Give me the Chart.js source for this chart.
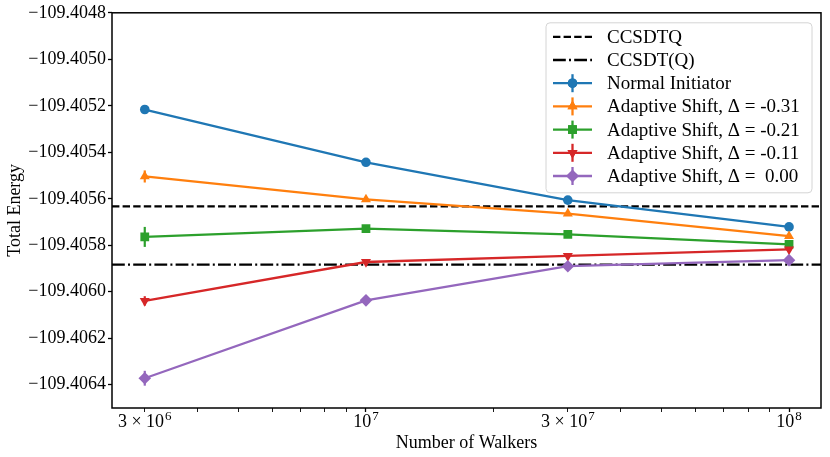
<!DOCTYPE html>
<html>
<head>
<meta charset="utf-8">
<script src="https://cdn.jsdelivr.net/npm/chart.js@4.4.1/dist/chart.umd.min.js"></script>
<style>
html, body { margin: 0; padding: 0; background: #fff; }
canvas { display: block; }
</style>
</head>
<body>
<canvas id="myChart" width="830" height="457" style="width:830px;height:457px"></canvas>
<script>
// walkers on the x axis (log scale)
const walkers = [3e6, 1e7, 3e7, 1e8];

// total energies
const normalInit = [-109.405216, -109.405443, -109.405606, -109.405721];
const shift031 = [-109.405504, -109.405603, -109.405664, -109.405761];
const shift021 = [-109.405764, -109.405728, -109.405753, -109.405796];
const shift011 = [-109.406039, -109.405872, -109.405846, -109.405818];
const shift000 = [-109.406372, -109.406037, -109.405890, -109.405864];

// error bars
const errNormal = [0.000004, 0.000004, 0.000003, 0.000003];
const err031 = [0.000026, 0.000006, 0.000005, 0.000004];
const err021 = [0.000043, 0.000007, 0.000005, 0.000005];
const err011 = [0.000020, 0.000006, 0.000005, 0.000004];
const err000 = [0.000032, 0.000008, 0.000006, 0.000005];

// reference energies
const ccsdtq = -109.405633;
const ccsdtQ = -109.405883;

const xRange = [2.51e6, 1.19e8];
const yRange = [-109.4065, -109.4048];
const yTicks = [-109.4064, -109.4062, -109.4060, -109.4058, -109.4056, -109.4054, -109.4052, -109.4050, -109.4048];
const xTicks = [3e6, 4e6, 5e6, 6e6, 7e6, 8e6, 9e6, 1e7, 2e7, 3e7, 4e7, 5e7, 6e7, 7e7, 8e7, 9e7, 1e8];
const xLabelValues = [3e6, 1e7, 3e7, 1e8];
const xLabelBase = ['3 × 10', '10', '3 × 10', '10'];
const xLabelExp = ['6', '7', '7', '8'];

const FONT = "'Liberation Serif', 'DejaVu Serif', serif";
Chart.defaults.font.family = FONT;
Chart.defaults.color = '#000';

function pts(vals) {
    return walkers.map((x, i) => ({ x: x, y: vals[i] }));
}

function series(label, vals, errs, color, style, radius, rotation, order) {
    return {
        label: label,
        data: pts(vals),
        errors: errs,
        borderColor: color,
        backgroundColor: color,
        borderWidth: 2.3,
        pointStyle: style,
        pointRadius: radius,
        pointRotation: rotation,
        pointBorderWidth: 0,
        pointHoverRadius: radius,
        order: order,
    };
}

function refLine(label, value, dash, order) {
    return {
        label: label,
        data: [{ x: xRange[0], y: value }, { x: xRange[1], y: value }],
        borderColor: '#000',
        borderWidth: 2.2,
        borderDash: dash,
        pointRadius: 0,
        pointHoverRadius: 0,
        order: order,
    };
}

const datasets = [
    refLine('CCSDTQ', ccsdtq, [7.4, 3.2], 7),
    refLine('CCSDT(Q)', ccsdtQ, [12.8, 3.2, 2, 3.2], 6),
    series('Normal Initiator', normalInit, errNormal, '#1f77b4', 'circle', 4.8, 0, 5),
    series('Adaptive Shift, Δ = -0.31', shift031, err031, '#ff7f0e', 'triangle', 5.8, 0, 4),
    series('Adaptive Shift, Δ = -0.21', shift021, err021, '#2ca02c', 'rect', 6.2, 0, 3),
    series('Adaptive Shift, Δ = -0.11', shift011, err011, '#d62728', 'triangle', 5.8, 180, 2),
    series('Adaptive Shift, Δ =  0.00', shift000, err000, '#9467bd', 'rectRot', 6.3, 0, 1),
];

const errorBars = {
    id: 'errorBars',
    beforeDatasetDraw(chart, args) {
        const ds = chart.data.datasets[args.index];
        if (!ds.errors) return;
        const ctx = chart.ctx;
        const yScale = chart.scales.y;
        ctx.save();
        ctx.strokeStyle = ds.borderColor;
        ctx.lineWidth = 2.2;
        args.meta.data.forEach((pt, i) => {
            const v = ds.data[i].y;
            const e = ds.errors[i];
            ctx.beginPath();
            ctx.moveTo(pt.x, yScale.getPixelForValue(v - e));
            ctx.lineTo(pt.x, yScale.getPixelForValue(v + e));
            ctx.stroke();
        });
        ctx.restore();
    }
};

const frame = {
    id: 'frame',
    afterDatasetsDraw(chart) {
        const a = chart.chartArea;
        const ctx = chart.ctx;
        ctx.save();
        ctx.strokeStyle = '#000';
        ctx.lineWidth = 1.5;
        ctx.strokeRect(a.left, a.top, a.right - a.left, a.bottom - a.top);
        ctx.restore();
    }
};

// x tick labels with a raised exponent, placed by the log scale
const xLabels = {
    id: 'xLabels',
    afterDraw(chart) {
        const ctx = chart.ctx;
        const xs = chart.scales.x;
        const base = chart.chartArea.bottom + 19;
        ctx.save();
        ctx.fillStyle = '#000';
        ctx.textBaseline = 'alphabetic';
        ctx.textAlign = 'left';
        xLabelValues.forEach((v, i) => {
            const px = xs.getPixelForValue(v);
            ctx.font = '18px ' + FONT;
            const wb = ctx.measureText(xLabelBase[i]).width;
            ctx.font = '13px ' + FONT;
            const we = ctx.measureText(xLabelExp[i]).width;
            const x0 = px - (wb + we + 1) / 2;
            ctx.font = '18px ' + FONT;
            ctx.fillText(xLabelBase[i], x0, base);
            ctx.font = '13px ' + FONT;
            ctx.fillText(xLabelExp[i], x0 + wb + 1, base - 7);
        });
        ctx.restore();
    }
};

const legendBox = {
    id: 'legendBox',
    afterDraw(chart) {
        const ctx = chart.ctx;
        const a = chart.chartArea;
        const w = 266, h = 170;
        const x0 = a.right - 9 - w, y0 = a.top + 10;
        ctx.save();
        ctx.beginPath();
        ctx.roundRect(x0, y0, w, h, 4);
        ctx.fillStyle = 'rgba(255,255,255,0.8)';
        ctx.fill();
        ctx.strokeStyle = '#d4d4d4';
        ctx.lineWidth = 1;
        ctx.stroke();
        chart.data.datasets.forEach((ds, i) => {
            const y = y0 + 14 + i * 23.2;
            ctx.strokeStyle = ds.borderColor;
            ctx.lineWidth = 2.3;
            ctx.setLineDash(ds.borderDash || []);
            ctx.beginPath();
            ctx.moveTo(x0 + 7, y);
            ctx.lineTo(x0 + 46, y);
            ctx.stroke();
            ctx.setLineDash([]);
            if (ds.errors) {
                ctx.beginPath();
                ctx.moveTo(x0 + 26.5, y - 9);
                ctx.lineTo(x0 + 26.5, y + 9);
                ctx.stroke();
                ctx.fillStyle = ds.backgroundColor;
                Chart.helpers.drawPoint(ctx, {
                    pointStyle: ds.pointStyle,
                    radius: ds.pointRadius,
                    rotation: ds.pointRotation,
                    borderWidth: 0
                }, x0 + 26.5, y);
                ctx.fill();
            }
            ctx.fillStyle = '#000';
            ctx.font = '19px ' + FONT;
            ctx.textBaseline = 'middle';
            ctx.textAlign = 'left';
            ctx.fillText(ds.label, x0 + 61, y + 1);
        });
        ctx.restore();
    }
};

const ctx = document.getElementById('myChart').getContext('2d');
const chart = new Chart(ctx, {
    type: 'line',
    data: { datasets: datasets },
    plugins: [errorBars, frame, xLabels, legendBox],
    options: {
        responsive: false,
        animation: false,
        devicePixelRatio: 1,
        layout: { padding: { top: 12, right: 9, left: 0, bottom: 0 } },
        plugins: {
            legend: { display: false },
            tooltip: { enabled: false },
        },
        scales: {
            x: {
                type: 'logarithmic',
                min: xRange[0],
                max: xRange[1],
                afterBuildTicks: (scale) => {
                    scale.ticks = xTicks.map(v => ({ value: v }));
                },
                afterFit: (scale) => { scale.height = 49; },
                grid: {
                    drawOnChartArea: false,
                    drawTicks: true,
                    tickLength: 4,
                    tickColor: '#000',
                    tickWidth: (c) => (c.tick.value === 1e7 || c.tick.value === 1e8) ? 1.3 : 0.9,
                },
                border: { display: false },
                ticks: {
                    autoSkip: false,
                    maxRotation: 0,
                    padding: 2,
                    font: { size: 18 },
                    callback: () => ''
                },
                title: {
                    display: true,
                    text: 'Number of Walkers',
                    font: { size: 18 },
                    padding: { top: 3, bottom: 3 },
                }
            },
            y: {
                type: 'linear',
                min: yRange[0],
                max: yRange[1],
                afterBuildTicks: (scale) => {
                    scale.ticks = yTicks.map(v => ({ value: v }));
                },
                afterFit: (scale) => { scale.width = 112; },
                grid: {
                    drawOnChartArea: false,
                    drawTicks: true,
                    tickLength: 4,
                    tickColor: '#000',
                    tickWidth: 1.3,
                },
                border: { display: false },
                ticks: {
                    padding: 2,
                    font: { size: 18 },
                    callback: (v) => (v < 0 ? '−' : '') + Math.abs(v).toFixed(4)
                },
                title: {
                    display: true,
                    text: 'Total Energy',
                    font: { size: 18 },
                    padding: { top: 4, bottom: 4 },
                }
            }
        }
    }
});
</script>
</body>
</html>
